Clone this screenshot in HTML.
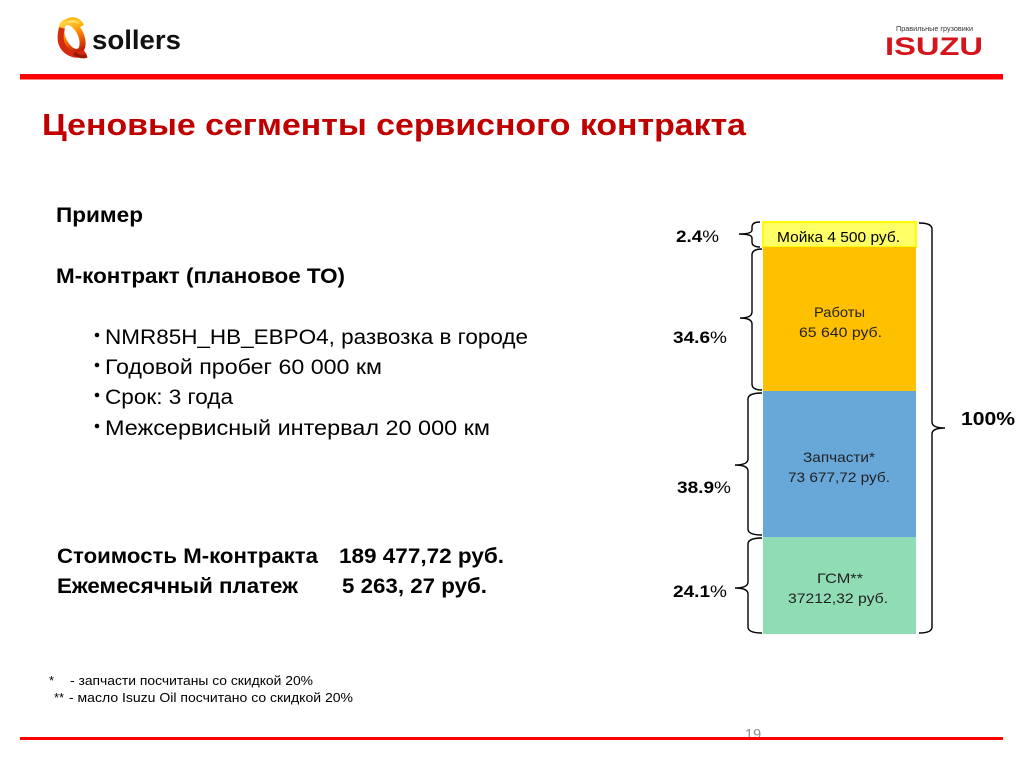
<!DOCTYPE html>
<html>
<head>
<meta charset="utf-8">
<style>
  html, body { margin:0; padding:0; background:#ffffff; }
  svg { display:block; }
  text { font-family: "Liberation Sans", "DejaVu Sans", sans-serif; }
</style>
</head>
<body>
<svg width="1024" height="768" viewBox="0 0 1024 768" xmlns="http://www.w3.org/2000/svg">
  <defs>
    <linearGradient id="lg1" x1="0" y1="0" x2="0" y2="1">
      <stop offset="0" stop-color="#ffd23a"/>
      <stop offset="0.45" stop-color="#ff8a00"/>
      <stop offset="1" stop-color="#c41a0a"/>
    </linearGradient>
    <radialGradient id="rg1" cx="0.4" cy="0.4" r="0.6">
      <stop offset="0" stop-color="#fff3a0"/>
      <stop offset="1" stop-color="#ffb400"/>
    </radialGradient>
  </defs>

  <!-- Sollers logo -->
  <g>
    <ellipse cx="72" cy="37" rx="9" ry="16" transform="rotate(-25 72 37)" fill="none" stroke="url(#lg1)" stroke-width="6"/>
    <path d="M62 28 Q57 46 70 53 Q78 57 85 52" fill="none" stroke="#d42a10" stroke-width="6"/>
    <path d="M66 22 Q76 16 82 26" fill="none" stroke="url(#rg1)" stroke-width="5"/>
    <path d="M74 53 Q80 58 87 56" fill="none" stroke="#9a1a0a" stroke-width="3.5"/>
    <text x="92" y="49" font-size="27" font-weight="bold" fill="#111" textLength="89" lengthAdjust="spacingAndGlyphs">sollers</text>
  </g>

  <!-- Isuzu logo -->
  <text x="896" y="31" font-size="7.5" fill="#333" textLength="77" lengthAdjust="spacingAndGlyphs">Правильные грузовики</text>
  <text x="885" y="55" font-size="25" font-weight="bold" fill="#d4161c" textLength="98" lengthAdjust="spacingAndGlyphs">ISUZU</text>

  <!-- top red line -->
  <rect x="20" y="74" width="983" height="5.5" fill="#ff0000"/>

  <!-- Title -->
  <text x="42" y="135" font-size="30.5" font-weight="bold" fill="#c00000" textLength="704" lengthAdjust="spacingAndGlyphs">Ценовые сегменты сервисного контракта</text>

  <!-- Left text -->
  <text x="56" y="222" font-size="21" font-weight="bold" fill="#000" textLength="87" lengthAdjust="spacingAndGlyphs">Пример</text>
  <text x="56" y="283" font-size="21" font-weight="bold" fill="#000" textLength="289" lengthAdjust="spacingAndGlyphs">М-контракт (плановое ТО)</text>

  <circle cx="97" cy="335" r="2.3" fill="#000"/>
  <text x="105" y="344" font-size="21.5" fill="#000" textLength="423" lengthAdjust="spacingAndGlyphs">NMR85H_HB_EBPO4, развозка в городе</text>
  <circle cx="97" cy="365" r="2.3" fill="#000"/>
  <text x="105" y="374" font-size="21.5" fill="#000" textLength="277" lengthAdjust="spacingAndGlyphs">Годовой пробег 60 000 км</text>
  <circle cx="97" cy="395" r="2.3" fill="#000"/>
  <text x="105" y="404" font-size="21.5" fill="#000" textLength="128" lengthAdjust="spacingAndGlyphs">Срок: 3 года</text>
  <circle cx="97" cy="426" r="2.3" fill="#000"/>
  <text x="105" y="435" font-size="21.5" fill="#000" textLength="385" lengthAdjust="spacingAndGlyphs">Межсервисный интервал 20 000 км</text>

  <text x="57" y="563" font-size="21" font-weight="bold" fill="#000" textLength="261" lengthAdjust="spacingAndGlyphs">Стоимость М-контракта</text>
  <text x="339" y="563" font-size="21" font-weight="bold" fill="#000" textLength="165" lengthAdjust="spacingAndGlyphs">189 477,72 руб.</text>
  <text x="57" y="593" font-size="21" font-weight="bold" fill="#000" textLength="241" lengthAdjust="spacingAndGlyphs">Ежемесячный платеж</text>
  <text x="342" y="593" font-size="21" font-weight="bold" fill="#000" textLength="145" lengthAdjust="spacingAndGlyphs">5 263, 27 руб.</text>

  <!-- footnotes -->
  <text x="49" y="685" font-size="13" fill="#000">*</text>
  <text x="70" y="685" font-size="13" fill="#000" textLength="243" lengthAdjust="spacingAndGlyphs">- запчасти посчитаны со скидкой 20%</text>
  <text x="54" y="702" font-size="13" fill="#000">**</text>
  <text x="69" y="702" font-size="13" fill="#000" textLength="284" lengthAdjust="spacingAndGlyphs">- масло Isuzu Oil посчитано со скидкой 20%</text>

  <!-- Stacked bar -->
  <rect x="763" y="222" width="153" height="25" fill="#ffff66" stroke="#ffff00" stroke-width="2"/>
  <rect x="763" y="247" width="153" height="144" fill="#ffc000"/>
  <rect x="763" y="391" width="153" height="146" fill="#67a8d9"/>
  <rect x="763" y="537" width="153" height="97" fill="#90dcb5"/>

  <text x="777" y="242" font-size="15" fill="#000" textLength="123" lengthAdjust="spacingAndGlyphs">Мойка 4 500 руб.</text>
  <text x="814" y="317" font-size="14" fill="#222" textLength="51" lengthAdjust="spacingAndGlyphs">Работы</text>
  <text x="799" y="337" font-size="14" fill="#222" textLength="83" lengthAdjust="spacingAndGlyphs">65 640 руб.</text>
  <text x="803" y="462" font-size="14" fill="#222" textLength="72" lengthAdjust="spacingAndGlyphs">Запчасти*</text>
  <text x="788" y="482" font-size="14" fill="#222" textLength="102" lengthAdjust="spacingAndGlyphs">73 677,72 руб.</text>
  <text x="817" y="583" font-size="14" fill="#222" textLength="46" lengthAdjust="spacingAndGlyphs">ГСМ**</text>
  <text x="788" y="603" font-size="14" fill="#222" textLength="100" lengthAdjust="spacingAndGlyphs">37212,32 руб.</text>

  <!-- Braces -->
  <g fill="none" stroke="#000" stroke-width="1.4">
    <path d="M760 222 Q752 222 752 227 L752 230 Q752 234 739 234 Q752 234 752 238 L752 242 Q752 247 760 247"/>
    <path d="M762 249 Q752 249 752 255 L752 312 Q752 318 740 318 Q752 318 752 324 L752 384 Q752 390 762 390"/>
    <path d="M762 393 Q748 393 748 399 L748 459 Q748 465 735 465 Q748 465 748 471 L748 529 Q748 535 762 535"/>
    <path d="M762 538 Q748 538 748 544 L748 582 Q748 588 735 588 Q748 588 748 594 L748 627 Q748 633 762 633"/>
    <path d="M919 223 Q932 223 932 229 L932 422 Q932 428 945 428 Q932 428 932 434 L932 627 Q932 633 919 633"/>
  </g>

  <!-- Percent labels -->
  <text x="676" y="242" font-size="16.5" fill="#000" textLength="43" lengthAdjust="spacingAndGlyphs"><tspan font-weight="bold">2.4</tspan>%</text>
  <text x="673" y="343" font-size="16.5" fill="#000" textLength="54" lengthAdjust="spacingAndGlyphs"><tspan font-weight="bold">34.6</tspan>%</text>
  <text x="677" y="493" font-size="16.5" fill="#000" textLength="54" lengthAdjust="spacingAndGlyphs"><tspan font-weight="bold">38.9</tspan>%</text>
  <text x="673" y="597" font-size="16.5" fill="#000" textLength="54" lengthAdjust="spacingAndGlyphs"><tspan font-weight="bold">24.1</tspan>%</text>
  <text x="961" y="425" font-size="18.5" font-weight="bold" fill="#000" textLength="54" lengthAdjust="spacingAndGlyphs">100%</text>

  <!-- Page number and bottom line -->
  <text x="745" y="739" font-size="14.5" fill="#8c8c8c">19</text>
  <rect x="20" y="737" width="983" height="3" fill="#ff0000"/>
</svg>
</body>
</html>
